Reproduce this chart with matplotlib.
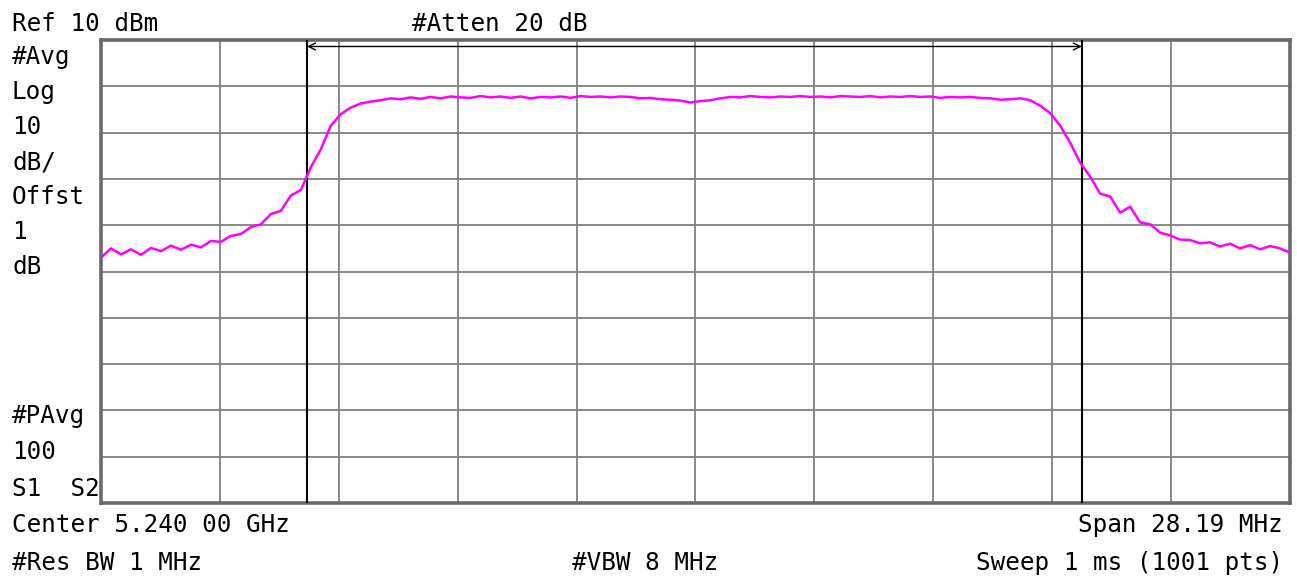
import matplotlib
matplotlib.use("Agg")
import matplotlib.pyplot as plt
import numpy as np

# Sweep settings shown on screen
center_ghz = 5.240
span_mhz = 28.19
ref_dbm = 10
db_per_div = 10

# Trace level (dBm) sampled across the span, left to right
level_dbm = [
    -37.0, -35.0, -36.3, -35.2, -36.4, -34.9, -35.6, -34.4, -35.3, -34.2,
    -34.8, -33.4, -33.6, -32.3, -31.9, -30.4, -29.8, -27.6, -26.9, -23.6,
    -22.4, -17.5, -13.6, -8.5, -6.0, -4.6, -3.7, -3.3, -3.0, -2.6,
    -2.8, -2.4, -2.7, -2.3, -2.6, -2.2, -2.4, -2.5, -2.1, -2.4,
    -2.2, -2.5, -2.2, -2.6, -2.3, -2.4, -2.2, -2.5, -2.1, -2.3,
    -2.2, -2.4, -2.2, -2.3, -2.6, -2.5, -2.8, -2.9, -3.1, -3.5,
    -3.2, -3.0, -2.6, -2.3, -2.4, -2.1, -2.3, -2.4, -2.2, -2.3,
    -2.1, -2.3, -2.2, -2.4, -2.1, -2.2, -2.3, -2.1, -2.4, -2.2,
    -2.3, -2.1, -2.3, -2.2, -2.5, -2.3, -2.4, -2.3, -2.5, -2.6,
    -2.9, -2.8, -2.6, -3.0, -4.2, -5.8, -8.5, -12.2, -16.5, -19.5,
    -23.2, -23.8, -27.3, -26.0, -29.4, -29.8, -31.6, -32.2, -33.1, -33.2,
    -33.9, -33.7, -34.6, -34.0, -35.0, -34.3, -35.2, -34.5, -35.0, -35.9,
]
# sweep points are evenly spaced over the span (offset from center, MHz)
freq_mhz = np.linspace(-span_mhz / 2, span_mhz / 2, len(level_dbm))

# bandwidth marker lines (MHz from center)
marker_mhz = [-9.21, 9.16]

left_labels = ["#Avg", "Log", "10", "dB/", "Offst", "1", "dB"]
left_label_y = [64, 99, 134, 169, 204, 239, 274]
lower_labels = ["#PAvg", "100", "S1  S2"]
lower_label_y = [423, 459, 496]

W, H = 1297, 577
fig = plt.figure(figsize=(W / 100, H / 100), dpi=100)
ax = fig.add_axes([101 / W, 74 / H, 1189 / W, 463 / H])

top_db = ref_dbm
bottom_db = ref_dbm - 10 * db_per_div
ax.set_xlim(-span_mhz / 2, span_mhz / 2)
ax.set_ylim(bottom_db, top_db)

# 10 x 10 graticule
ax.set_xticks(np.linspace(-span_mhz / 2, span_mhz / 2, 11))
ax.set_yticks(np.arange(bottom_db, top_db + 1, db_per_div))
ax.tick_params(length=0, labelbottom=False, labelleft=False)
ax.grid(True, color="#808080", linewidth=1.3)
for sp in ax.spines.values():
    sp.set_color("#6a6a6a")
    sp.set_linewidth(2.6)

# markers and the arrow joining them
for m in marker_mhz:
    ax.axvline(m, color="black", linewidth=1.5, zorder=3)
ax.annotate("", xy=(marker_mhz[1], top_db - 1.4), xytext=(marker_mhz[0], top_db - 1.4),
            arrowprops=dict(arrowstyle="<->,head_length=0.5,head_width=0.25",
                            color="black", lw=1.0, shrinkA=0, shrinkB=0))

# trace
ax.plot(freq_mhz, level_dbm, color="#ff00ff", linewidth=1.8, zorder=4)

font = dict(family="DejaVu Sans Mono", size=17.5, color="black")


def put(x, y, s, ha="left"):
    fig.text(x / W, 1 - y / H, s, ha=ha, va="baseline", **font)


put(12, 31, "Ref 10 dBm")
put(412, 31, "#Atten 20 dB")
for s, y in zip(left_labels, left_label_y):
    put(12, y, s)
for s, y in zip(lower_labels, lower_label_y):
    put(12, y, s)
put(12, 532, f"Center {center_ghz:.3f} 00 GHz")
put(1283, 532, f"Span {span_mhz:.2f} MHz", ha="right")
put(12, 570, "#Res BW 1 MHz")
put(572, 570, "#VBW 8 MHz")
put(1283, 570, "Sweep 1 ms (1001 pts)", ha="right")

fig.savefig("out.png", dpi=100, facecolor="white")
